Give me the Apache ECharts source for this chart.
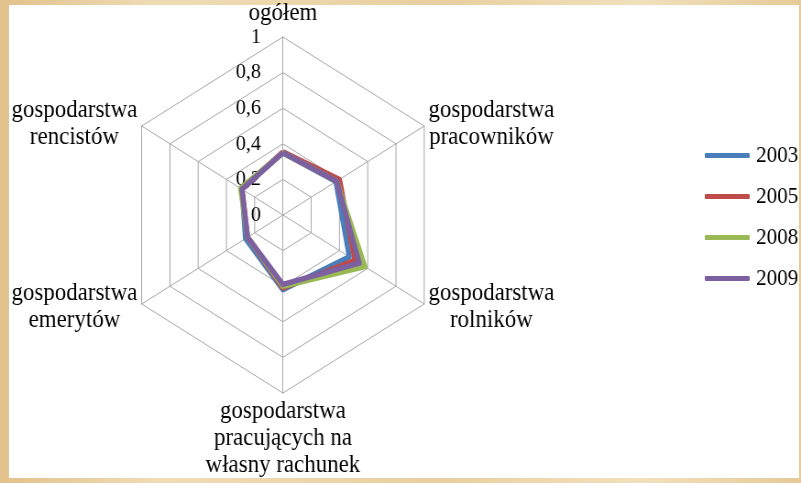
<!DOCTYPE html>
<html lang="pl">
<head>
    <meta charset="UTF-8">
    <title>radar</title>
    <script src="https://cdn.jsdelivr.net/npm/echarts@6/dist/echarts.min.js"></script>
    <style>
        html, body { margin: 0; padding: 0; overflow: hidden; }
        body {
            width: 801px; height: 483px;
            background: linear-gradient(90deg, #e2c28c 0%, #efdcb6 20%, #e9cf9f 55%, #f1e0bd 80%, #e6ca97 100%);
        }
        #panel { position: absolute; left: 9px; top: 5px; width: 790px; height: 473px; background: #fff; }
        /* oryginal jest sciesniony w poziomie, wiec rysujemy szerzej i sciskamy */
        #main { position: absolute; left: 0; top: 0; width: 874px; height: 483px;
                transform: scaleX(0.9165); transform-origin: 0 0; }
    </style>
</head>
<body>
<div id="panel"></div>
<div id="main"></div>
<script type="text/javascript">
    // osie zgodnie z ruchem wskazowek zegara, od gory
    var categories = ['ogółem', 'gospodarstwa\npracowników', 'gospodarstwa\nrolników',
        'gospodarstwa\npracujących na\nwłasny rachunek', 'gospodarstwa\nemerytów', 'gospodarstwa\nrencistów'];
    var years = ['2003', '2005', '2008', '2009'];
    var v2003 = [0.35, 0.375, 0.47, 0.42, 0.265, 0.29];
    var v2005 = [0.355, 0.40, 0.51, 0.41, 0.25, 0.29];
    var v2008 = [0.35, 0.38, 0.58, 0.40, 0.25, 0.30];
    var v2009 = [0.35, 0.38, 0.54, 0.39, 0.25, 0.29];
    var tickLabels = ['0', '0,2', '0,4', '0,6', '0,8', '1'];
    var colors = ['#4a7ebb', '#be4b48', '#98b954', '#7d60a0'];

    // echarts kladzie wskazniki przeciwnie do wskazowek, wiec odwracamy kolejnosc
    var order = [0, 5, 4, 3, 2, 1];
    function reorder(arr) {
        return order.map(function (i) { return arr[i]; });
    }

    var myChart = echarts.init(document.getElementById('main'));
    var font = "'Liberation Serif', 'Times New Roman', serif";

    var indicator = reorder(categories).map(function (name, i) {
        var ind = { name: name, min: 0, max: 1 };
        if (i === 0) {
            ind.axisLabel = {
                show: true,
                color: '#000',
                fontFamily: font,
                fontSize: 22,
                margin: 24,
                formatter: function (v) {
                    return tickLabels[Math.round(v * 5)];
                }
            };
        }
        return ind;
    });

    var series = [v2003, v2005, v2008, v2009].map(function (vals, i) {
        return {
            name: years[i],
            type: 'radar',
            symbol: 'none',
            z: 2 + i,
            lineStyle: { width: 5.5, color: colors[i], join: 'round' },
            itemStyle: { color: colors[i] },
            data: [{ value: reorder(vals), name: years[i] }]
        };
    });

    var option = {
        animation: false,
        color: colors,
        legend: {
            orient: 'vertical',
            left: 764,
            top: 139,
            icon: 'roundRect',
            itemWidth: 49,
            itemHeight: 5,
            itemGap: 18,
            textStyle: { color: '#000', fontFamily: font, fontSize: 23, padding: [0, 0, 0, 2] },
            data: years
        },
        radar: {
            center: [308.7, 215],
            radius: 178,
            startAngle: 90,
            splitNumber: 5,
            shape: 'polygon',
            nameGap: 5,
            axisName: {
                color: '#000',
                fontFamily: font,
                fontSize: 24,
                formatter: function (name) {
                    return name.split('\n').map(function (l) { return '{c|' + l + '}'; }).join('\n');
                },
                rich: {
                    c: { width: 138, align: 'center', fontFamily: font, fontSize: 25, lineHeight: 27, color: '#000' }
                }
            },
            axisLine: { lineStyle: { color: '#a6a6a6', width: 1 } },
            splitLine: { lineStyle: { color: '#a6a6a6', width: 1 } },
            splitArea: { show: false },
            axisLabel: { show: false },
            axisTick: { show: false },
            indicator: indicator
        },
        series: series
    };

    myChart.setOption(option);
</script>
</body>
</html>
